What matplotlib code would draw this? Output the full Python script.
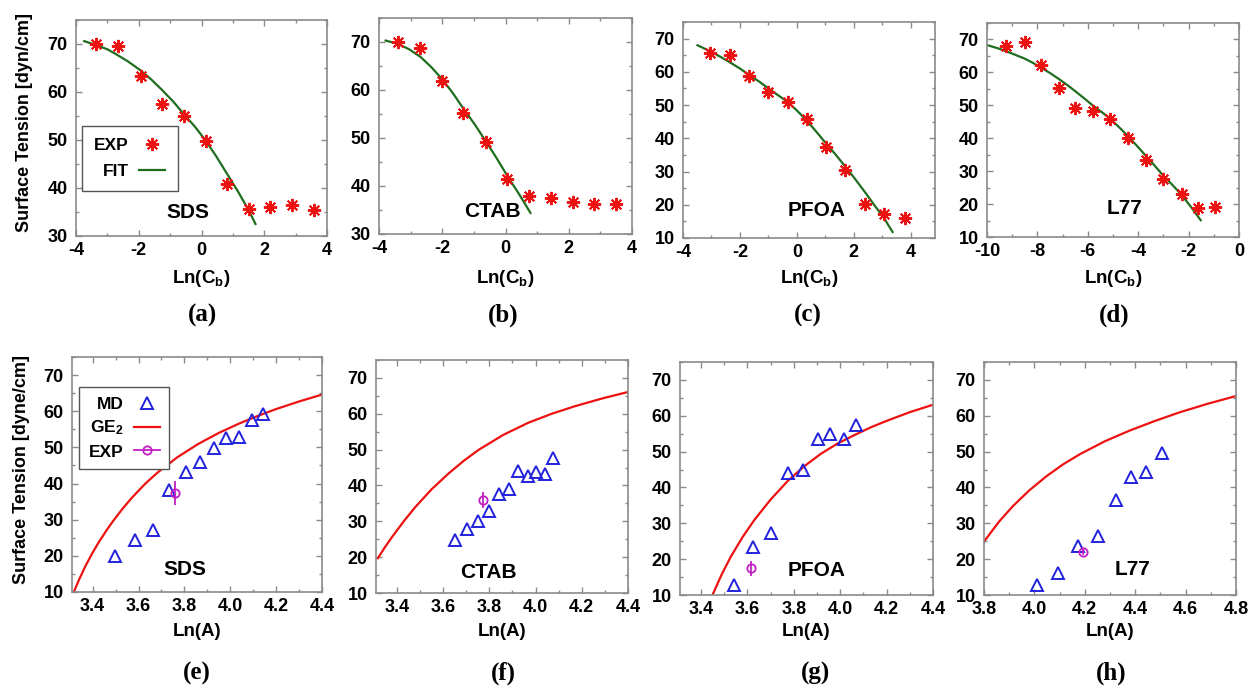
import matplotlib
matplotlib.use('Agg')
import matplotlib.pyplot as plt
from matplotlib.ticker import MultipleLocator, FormatStrFormatter
from matplotlib.lines import Line2D

plt.rcParams['font.family'] = ['Liberation Sans', 'DejaVu Sans']
plt.rcParams['font.weight'] = 'bold'
plt.rcParams['axes.unicode_minus'] = False
plt.rcParams['mathtext.fontset'] = 'custom'
plt.rcParams['mathtext.rm'] = 'Liberation Sans:bold'
plt.rcParams['mathtext.it'] = 'Liberation Sans:bold'
plt.rcParams['mathtext.bf'] = 'Liberation Sans:bold'

# ---------------- data: top row (surface tension vs Ln(Cb)) ----------------
sds_lnc = [-3.37, -2.65, -1.94, -1.27, -0.55, 0.13, 0.81, 1.52, 2.19, 2.88, 3.57]
sds_st = [70.0, 69.6, 63.3, 57.4, 55.0, 49.7, 40.9, 35.6, 36.1, 36.5, 35.4]
sds_fit_lnc = [-3.74, -3.37, -3.0, -2.73, -2.35, -1.94, -1.6, -1.27, -0.9, -0.55,
               -0.2, 0.13, 0.47, 0.81, 1.17, 1.52, 1.72]
sds_fit_st = [70.6, 69.8, 68.9, 67.9, 66.4, 64.5, 62.6, 60.5, 58.0, 55.3,
              52.7, 49.9, 46.6, 43.0, 39.2, 35.2, 32.5]

ctab_lnc = [-3.40, -2.69, -2.01, -1.34, -0.63, 0.05, 0.73, 1.43, 2.12, 2.80, 3.48]
ctab_st = [69.9, 68.7, 61.9, 55.3, 49.1, 41.4, 37.9, 37.4, 36.7, 36.2, 36.2]
ctab_fit_lnc = [-3.79, -3.40, -3.05, -2.69, -2.35, -2.01, -1.67, -1.34, -0.98, -0.63,
                -0.29, 0.05, 0.42, 0.79]
ctab_fit_st = [70.3, 69.6, 68.5, 66.9, 64.8, 62.3, 59.4, 56.2, 52.9, 49.4,
               45.9, 42.2, 38.4, 34.4]

pfoa_lnc = [-3.05, -2.34, -1.67, -1.00, -0.30, 0.35, 1.02, 1.70, 2.39, 3.06, 3.79]
pfoa_st = [65.6, 65.1, 58.7, 53.8, 51.0, 45.8, 37.3, 30.6, 20.3, 17.1, 16.1]
pfoa_fit_lnc = [-3.49, -3.05, -2.70, -2.34, -2.0, -1.67, -1.33, -1.0, -0.65, -0.3, 0.02,
                0.35, 0.68, 1.02, 1.36, 1.70, 2.05, 2.39, 2.72, 3.06, 3.36]
pfoa_fit_st = [68.0, 66.2, 64.6, 62.8, 61.0, 59.0, 57.1, 55.0, 52.9, 50.8, 48.2,
               45.3, 42.0, 38.5, 35.1, 31.5, 27.7, 23.8, 19.9, 16.0, 11.8]

l77_lnc = [-9.23, -8.51, -7.85, -7.15, -6.50, -5.78, -5.11, -4.39, -3.69, -3.00, -2.28, -1.64, -0.95]
l77_st = [68.0, 69.3, 62.3, 55.3, 49.3, 48.3, 45.8, 40.0, 33.3, 27.6, 23.0, 18.8, 19.1]
l77_fit_lnc = [-10.0, -9.6, -9.23, -8.87, -8.51, -8.18, -7.85, -7.5, -7.15, -6.82, -6.50, -6.14,
               -5.78, -5.44, -5.11, -4.75, -4.39, -4.04, -3.69, -3.35, -3.00, -2.64, -2.28,
               -1.90, -1.52]
l77_fit_st = [68.3, 67.4, 66.4, 65.3, 64.2, 62.9, 61.4, 59.8, 58.0, 56.2, 54.3, 52.1,
              49.8, 47.9, 45.9, 43.3, 40.5, 37.6, 34.6, 31.7, 28.6, 25.8, 22.8,
              19.1, 15.1]

# ---------------- data: bottom row (surface tension vs Ln(A)) ----------------
sds_lna = [3.498, 3.585, 3.664, 3.733, 3.806, 3.866, 3.931, 3.981, 4.039, 4.093, 4.143]
sds_md = [19.9, 24.3, 27.2, 38.3, 43.2, 45.9, 49.9, 52.5, 53.0, 57.6, 59.1]
sds_exp_lna, sds_exp_st, sds_exp_err = [3.76], [37.5], [3.3]
sds_ge_lna = [3.318, 3.34, 3.368, 3.40, 3.426, 3.46, 3.491, 3.53, 3.57, 3.63, 3.686, 3.77,
              3.859, 3.95, 4.039, 4.12, 4.20, 4.30, 4.40]
sds_ge_st = [10.0, 13.3, 17.1, 20.9, 23.7, 27.0, 29.8, 33.0, 36.0, 40.0, 43.2, 47.3,
             50.9, 54.0, 56.6, 58.7, 60.6, 62.7, 64.6]

ctab_lna = [3.652, 3.702, 3.753, 3.800, 3.844, 3.887, 3.926, 3.966, 4.002, 4.041, 4.074]
ctab_md = [24.9, 27.8, 30.0, 33.0, 37.6, 39.0, 43.9, 42.7, 43.8, 43.1, 47.6]
ctab_exp_lna, ctab_exp_st, ctab_exp_err = [3.771], [36.0], [2.2]
ctab_ge_lna = [3.318, 3.35, 3.378, 3.43, 3.479, 3.55, 3.623, 3.69, 3.753, 3.86, 3.969,
               4.07, 4.17, 4.29, 4.408]
ctab_ge_st = [19.7, 22.9, 25.5, 30.0, 33.9, 38.9, 43.3, 46.9, 49.9, 54.1, 57.5,
              60.0, 62.1, 64.3, 66.2]

pfoa_lna = [3.541, 3.626, 3.702, 3.774, 3.838, 3.903, 3.957, 4.015, 4.069]
pfoa_md = [12.8, 23.3, 27.4, 43.9, 44.8, 53.4, 55.0, 53.6, 57.4]
pfoa_exp_lna, pfoa_exp_st, pfoa_exp_err = [3.616], [17.4], [2.0]
pfoa_ge_lna = [3.45, 3.49, 3.529, 3.58, 3.63, 3.70, 3.774, 3.845, 3.917, 3.99, 4.061,
               4.133, 4.205, 4.30, 4.406]
pfoa_ge_st = [10.0, 15.8, 20.7, 26.2, 30.9, 36.6, 41.8, 45.9, 49.4, 52.3, 54.6,
              56.8, 58.7, 61.0, 63.2]

l77_lna = [4.012, 4.092, 4.172, 4.254, 4.323, 4.382, 4.443, 4.505]
l77_md = [12.8, 16.0, 23.6, 26.5, 36.5, 42.8, 44.4, 49.7]
l77_exp_lna, l77_exp_st, l77_exp_err = [4.192], [21.9], [0.8]
l77_ge_lna = [3.80, 3.86, 3.916, 3.98, 4.049, 4.115, 4.181, 4.28, 4.379, 4.48, 4.578, 4.69, 4.80]
l77_ge_st = [24.9, 30.5, 34.9, 39.2, 43.2, 46.5, 49.3, 52.9, 55.9, 58.6, 61.0, 63.4, 65.5]

top_names = ['SDS', 'CTAB', 'PFOA', 'L77']
top_letters = ['(a)', '(b)', '(c)', '(d)']
bot_letters = ['(e)', '(f)', '(g)', '(h)']

# ---------------- styling ----------------
W, H = 1251, 688
fig = plt.figure(figsize=(W / 100, H / 100), dpi=100)

RED = '#ee1111'
GREEN = '#1f6e1f'
BLUE = '#2222dd'
MAG = '#c21fc2'
SPINE = '#8a8a8a'
AST = (8, 2, 0)


def px_axes(l, r, t, b):
    return fig.add_axes([l / W, 1 - b / H, (r - l) / W, (b - t) / H])


def style(ax, xmaj, xmin, ymaj=10, ymin=5, fmt=None):
    for s in ax.spines.values():
        s.set_color(SPINE)
        s.set_linewidth(1.2)
    ax.xaxis.set_major_locator(MultipleLocator(xmaj))
    ax.xaxis.set_minor_locator(MultipleLocator(xmin))
    ax.yaxis.set_major_locator(MultipleLocator(ymaj))
    ax.yaxis.set_minor_locator(MultipleLocator(ymin))
    if fmt:
        ax.xaxis.set_major_formatter(FormatStrFormatter(fmt))
    ax.tick_params(which='both', direction='in', top=True, right=True,
                   color=SPINE, labelsize=13)
    ax.tick_params(which='major', length=4, width=1)
    ax.tick_params(which='minor', length=2.5, width=1)
    ax.tick_params(axis='y', pad=6)
    ax.tick_params(axis='x', pad=4)
    for lab in ax.get_xticklabels() + ax.get_yticklabels():
        lab.set_fontweight('bold')


top_boxes = [(76, 327, 20, 236), (379, 632, 18, 234), (683, 935, 22, 238), (987, 1239, 23, 237)]
bot_boxes = [(72, 322, 357, 592), (376, 628, 360, 593), (680, 933, 362, 595), (984, 1236, 362, 595)]

top_data = [
    (sds_lnc, sds_st, sds_fit_lnc, sds_fit_st, (-4, 4), (30, 75), (0.446, 0.111)),
    (ctab_lnc, ctab_st, ctab_fit_lnc, ctab_fit_st, (-4, 4), (30, 75), (0.449, 0.103)),
    (pfoa_lnc, pfoa_st, pfoa_fit_lnc, pfoa_fit_st, (-4, 4.85), (10, 75), (0.53, 0.126)),
    (l77_lnc, l77_st, l77_fit_lnc, l77_fit_st, (-10, 0), (10, 75), (0.544, 0.134)),
]

letter_top_x = [202, 503, 808, 1114]
letter_bot_x = [197, 503, 815, 1111]

for i, (box, d) in enumerate(zip(top_boxes, top_data)):
    ax = px_axes(*box)
    x, y, fx, fy, xl, yl, tpos = d
    ax.plot(fx, fy, color=GREEN, lw=1.6, zorder=2, solid_joinstyle='round')
    ax.plot(x, y, ls='none', marker=AST, ms=9.5, mew=1.4, color=RED, zorder=3)
    ax.set_xlim(*xl)
    ax.set_ylim(*yl)
    style(ax, 2, 1)
    ax.text(tpos[0], tpos[1], top_names[i], transform=ax.transAxes,
            ha='center', va='center', fontsize=15, fontweight='bold')
    cx = (box[0] + box[1]) / 2
    fig.text(cx / W, 1 - 278 / H, r'Ln(C$_\mathrm{b}$)', ha='center', va='center',
             fontsize=13.5, fontweight='bold')
    fig.text(letter_top_x[i] / W, 1 - 315 / H, top_letters[i], ha='center', va='center',
             fontsize=18, fontweight='bold', family=['Liberation Serif', 'DejaVu Serif'])
    if i == 0:
        h1 = Line2D([], [], ls='none', marker=AST, ms=9.5, mew=1.4, color=RED)
        h2 = Line2D([], [], color=GREEN, lw=1.6)
        leg = ax.legend([h1, h2], ['EXP', 'FIT'], loc='upper left',
                        bbox_to_anchor=(0.024, 0.509), borderaxespad=0,
                        markerfirst=False, fancybox=False, framealpha=1,
                        edgecolor='#555555', handlelength=1.5, handletextpad=0.6,
                        borderpad=0.7, labelspacing=0.6, prop={'weight': 'bold', 'size': 12.5})
        leg.get_frame().set_linewidth(1.0)

bot_data = [
    (sds_lna, sds_md, sds_exp_lna, sds_exp_st, sds_exp_err, sds_ge_lna, sds_ge_st, (3.31, 4.40), (0.452, 0.094)),
    (ctab_lna, ctab_md, ctab_exp_lna, ctab_exp_st, ctab_exp_err, ctab_ge_lna, ctab_ge_st, (3.31, 4.40), (0.446, 0.089)),
    (pfoa_lna, pfoa_md, pfoa_exp_lna, pfoa_exp_st, pfoa_exp_err, pfoa_ge_lna, pfoa_ge_st, (3.31, 4.40), (0.54, 0.107)),
    (l77_lna, l77_md, l77_exp_lna, l77_exp_st, l77_exp_err, l77_ge_lna, l77_ge_st, (3.8, 4.8), (0.59, 0.11)),
]

for i, (box, d) in enumerate(zip(bot_boxes, bot_data)):
    ax = px_axes(*box)
    x, y, ex, ey, ee, gx, gy, xl, tpos = d
    ax.plot(gx, gy, color=RED, lw=1.6, zorder=2, solid_joinstyle='round')
    ax.plot(x, y, ls='none', marker='^', ms=8.5, mew=1.4, mfc='none', mec=BLUE, zorder=3)
    ax.errorbar(ex, ey, yerr=ee, fmt='o', ms=6, mfc='none', mec=MAG, mew=1.3,
                ecolor=MAG, elinewidth=1.3, capsize=0, zorder=4)
    ax.set_xlim(*xl)
    ax.set_ylim(10, 75)
    style(ax, 0.2, 0.1, fmt='%.1f')
    ax.text(tpos[0], tpos[1], top_names[i], transform=ax.transAxes,
            ha='center', va='center', fontsize=15, fontweight='bold')
    cx = (box[0] + box[1]) / 2
    fig.text(cx / W, 1 - 632 / H, 'Ln(A)', ha='center', va='center',
             fontsize=13.5, fontweight='bold')
    fig.text(letter_bot_x[i] / W, 1 - 673 / H, bot_letters[i], ha='center', va='center',
             fontsize=18, fontweight='bold', family=['Liberation Serif', 'DejaVu Serif'])
    if i == 0:
        h1 = Line2D([], [], ls='none', marker='^', ms=8.5, mew=1.4, mfc='none', mec=BLUE)
        h2 = Line2D([], [], color=RED, lw=1.6)
        h3 = Line2D([], [], color=MAG, lw=1.3, marker='o', ms=6, mfc='none', mec=MAG, mew=1.3)
        leg = ax.legend([h1, h2, h3], ['MD', r'GE$_\mathrm{2}$', 'EXP'], loc='upper left',
                        bbox_to_anchor=(0.028, 0.872), borderaxespad=0,
                        markerfirst=False, fancybox=False, framealpha=1,
                        edgecolor='#555555', handlelength=1.5, handletextpad=0.6,
                        borderpad=0.55, labelspacing=0.4, prop={'weight': 'bold', 'size': 12.5})
        leg.get_frame().set_linewidth(1.0)

fig.text(25 / W, 1 - 122 / H, 'Surface Tension [dyn/cm]', rotation=90,
         ha='center', va='center', fontsize=13, fontweight='bold')
fig.text(22 / W, 1 - 470 / H, 'Surface Tension [dyne/cm]', rotation=90,
         ha='center', va='center', fontsize=13, fontweight='bold')

fig.savefig('out.png', dpi=100)
